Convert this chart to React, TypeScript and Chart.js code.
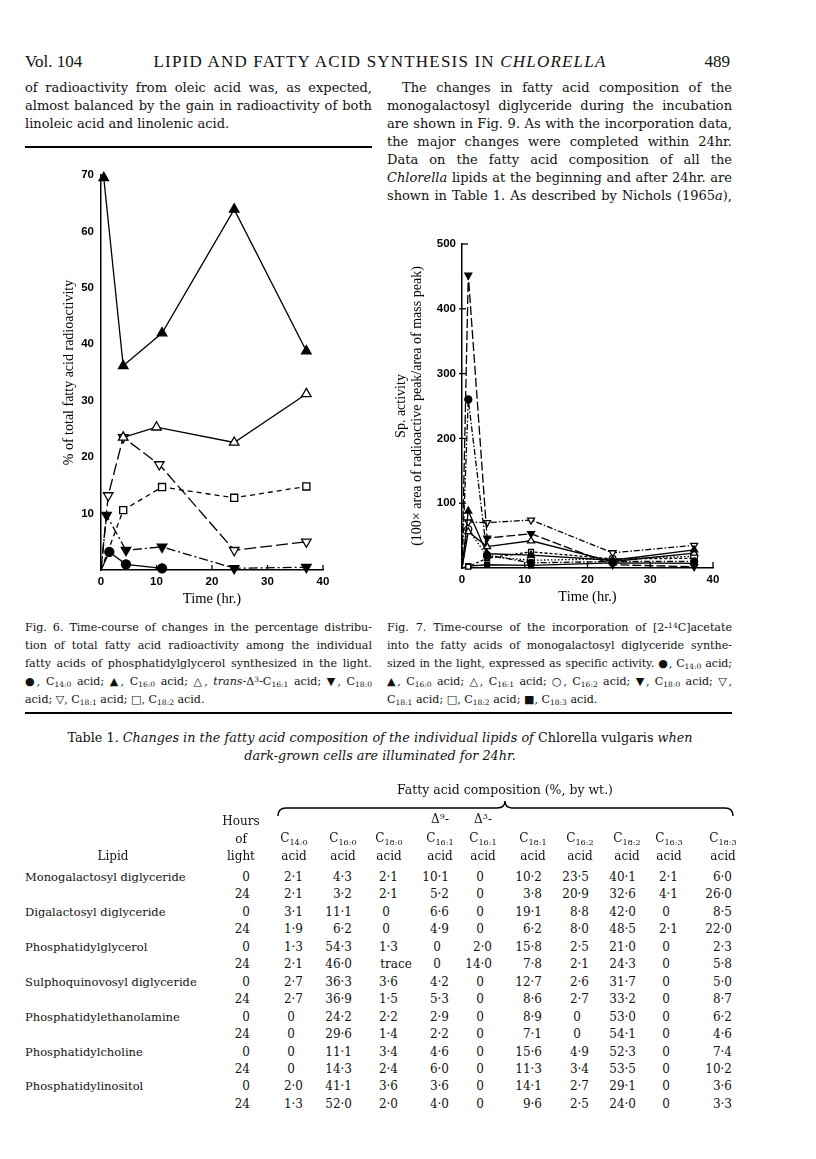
import React, { useEffect, useRef } from 'react';
import { Chart, registerables } from 'chart.js';

Chart.register(...registerables);

// ---------------- Fig. 6 data: % of total fatty acid radioactivity ----------------
const fig6XTicks = [0, 10, 20, 30, 40];
const fig6YTicks = [10, 20, 30, 40, 50, 60, 70];
const fig6C140Time = [0, 1.5, 4.5, 11];
const fig6C140Pct = [0, 3.2, 1.0, 0.3];
const fig6C160Time = [0.5, 4, 11, 24, 37];
const fig6C160Pct = [69.5, 36.2, 42.0, 63.9, 38.8];
const fig6TransC161Time = [4, 10, 24, 37];
const fig6TransC161Pct = [23.5, 25.3, 22.6, 31.2];
const fig6C180Time = [0, 1, 4.5, 11, 24, 37];
const fig6C180Pct = [0, 9.7, 3.5, 4.1, 0.3, 0.5];
const fig6C181Time = [0, 1.3, 4, 10.5, 24, 37];
const fig6C181Pct = [0, 13.2, 23.5, 18.7, 3.5, 5.0];
const fig6C182Time = [0, 4, 11, 24, 37];
const fig6C182Pct = [0, 10.6, 14.7, 12.8, 14.8];

// ---------------- Fig. 7 data: specific activity ----------------
const fig7XTicks = [0, 10, 20, 30, 40];
const fig7YTicks = [100, 200, 300, 400, 500];
const fig7Time = [0, 1, 4, 11, 24, 37];
const fig7C140 = [0, 260, 20, 8, 10, 10];
const fig7C160 = [0, 88, 22, 20, 12, 28];
const fig7C161 = [0, 56, 33, 42, 10, 23];
const fig7C162 = [0, 60, 18, 12, 14, 18];
const fig7C180 = [0, 452, 46, 53, 5, 2];
const fig7C181 = [0, 71, 70, 74, 23.5, 35];
const fig7C182 = [0, 2, 15, 25, 14, 15];
const fig7C183 = [0, 3, 5, 4, 8, 7];

// ---------------- Table 1 data ----------------
const lipidNames = [
  'Monogalactosyl diglyceride',
  'Digalactosyl diglyceride',
  'Phosphatidylglycerol',
  'Sulphoquinovosyl diglyceride',
  'Phosphatidylethanolamine',
  'Phosphatidylcholine',
  'Phosphatidylinositol',
];
const hoursOfLight = ['0', '24'];
const acidCarbons = ['14:0', '16:0', '18:0', '16:1', '16:1', '18:1', '16:2', '18:2', '16:3', '18:3'];
const acidPrefixes = ['', '', '', 'Δ9', 'Δ3', '', '', '', '', ''];
const tableValues = [
  ['2·1', '4·3', '2·1', '10·1', '0', '10·2', '23·5', '40·1', '2·1', '6·0'],
  ['2·1', '3·2', '2·1', '5·2', '0', '3·8', '20·9', '32·6', '4·1', '26·0'],
  ['3·1', '11·1', '0', '6·6', '0', '19·1', '8·8', '42·0', '0', '8·5'],
  ['1·9', '6·2', '0', '4·9', '0', '6·2', '8·0', '48·5', '2·1', '22·0'],
  ['1·3', '54·3', '1·3', '0', '2·0', '15·8', '2·5', '21·0', '0', '2·3'],
  ['2·1', '46·0', 'trace', '0', '14·0', '7·8', '2·1', '24·3', '0', '5·8'],
  ['2·7', '36·3', '3·6', '4·2', '0', '12·7', '2·6', '31·7', '0', '5·0'],
  ['2·7', '36·9', '1·5', '5·3', '0', '8·6', '2·7', '33·2', '0', '8·7'],
  ['0', '24·2', '2·2', '2·9', '0', '8·9', '0', '53·0', '0', '6·2'],
  ['0', '29·6', '1·4', '2·2', '0', '7·1', '0', '54·1', '0', '4·6'],
  ['0', '11·1', '3·4', '4·6', '0', '15·6', '4·9', '52·3', '0', '7·4'],
  ['0', '14·3', '2·4', '6·0', '0', '11·3', '3·4', '53·5', '0', '10·2'],
  ['2·0', '41·1', '3·6', '3·6', '0', '14·1', '2·7', '29·1', '0', '3·6'],
  ['1·3', '52·0', '2·0', '4·0', '0', '9·6', '2·5', '24·0', '0', '3·3'],
];

// ---------------- layout constants ----------------
const INK = '#111';
const SERIF = "'DejaVu Serif', serif";
const colRight = [303, 352, 398, 449, 492, 542, 589, 636, 678, 732];
const rowY0 = 877;
const rowStep = 17.45;

function series(label, times, vals, opt) {
  const r = opt.r;
  return {
    label,
    data: times.map((t, i) => ({ x: t, y: vals[i] })),
    showLine: true,
    borderColor: '#000',
    borderWidth: 1.3,
    borderDash: opt.dash || [],
    pointStyle: opt.style,
    pointRotation: opt.rot || 0,
    pointBackgroundColor: opt.fill ? '#000' : '#fff',
    pointBorderColor: '#000',
    pointBorderWidth: 1.3,
    pointRadius: (c) => (c.raw && c.raw.x === 0 && c.raw.y === 0 ? 0 : r),
    pointHoverRadius: r,
    clip: false,
    tension: 0,
  };
}

function tickPlugin(xTicks, xLen, yTicks, yIn, yOut, topStub) {
  return {
    id: 'inwardTicks',
    afterDraw(chart) {
      const ctx = chart.ctx;
      const xs = chart.scales.x;
      const ys = chart.scales.y;
      ctx.save();
      ctx.strokeStyle = '#000';
      ctx.lineWidth = 1.3;
      xTicks.forEach((v) => {
        const px = xs.getPixelForValue(v);
        ctx.beginPath();
        ctx.moveTo(px, ys.bottom);
        ctx.lineTo(px, ys.bottom - xLen);
        ctx.stroke();
      });
      yTicks.forEach((v) => {
        const py = ys.getPixelForValue(v);
        ctx.beginPath();
        ctx.moveTo(xs.left - yOut, py);
        ctx.lineTo(xs.left + yIn, py);
        ctx.stroke();
      });
      if (topStub) {
        const py = ys.getPixelForValue(topStub);
        ctx.beginPath();
        ctx.moveTo(xs.left, py);
        ctx.lineTo(xs.left + 6, py);
        ctx.stroke();
      }
      ctx.restore();
    },
  };
}

function baseScales(o) {
  return {
    x: {
      type: 'linear',
      min: 0,
      max: 40,
      afterBuildTicks: (s) => {
        s.ticks = o.xTicks.map((v) => ({ value: v }));
      },
      grid: { display: false, drawTicks: false },
      border: { display: true, color: '#000', width: 1.5 },
      ticks: {
        color: '#000',
        padding: 5,
        autoSkip: false,
        maxRotation: 0,
        font: { family: "'Liberation Sans', sans-serif", weight: 'bold', size: 11.5 },
      },
      title: {
        display: true,
        text: 'Time (hr.)',
        color: '#000',
        font: { family: "'Liberation Serif', serif", size: 14.5 },
        padding: { top: 0, bottom: 4 },
      },
      afterFit: (s) => {
        s.height = 42;
      },
    },
    y: {
      type: 'linear',
      min: 0,
      max: o.yMax,
      afterBuildTicks: (s) => {
        s.ticks = o.yTicks.map((v) => ({ value: v }));
      },
      grid: { display: false, drawTicks: false },
      border: { display: true, color: '#000', width: 1.5 },
      ticks: {
        color: '#000',
        padding: o.yPad,
        autoSkip: false,
        font: { family: "'Liberation Sans', sans-serif", weight: 'bold', size: 11.5 },
      },
      title: {
        display: true,
        text: o.yTitle,
        color: '#000',
        font: { family: "'Liberation Serif', serif", size: 14, lineHeight: 1.15 },
        padding: { top: 3, bottom: 3 },
      },
      afterFit: (s) => {
        s.width = o.yWidth;
      },
    },
  };
}

function fig6Config() {
  return {
    type: 'scatter',
    data: {
      datasets: [
        series('C14:0', fig6C140Time, fig6C140Pct, { style: 'circle', fill: true, r: 4.5 }),
        series('C16:0', fig6C160Time, fig6C160Pct, { style: 'triangle', fill: true, r: 5.5 }),
        series('trans-Δ3-C16:1', fig6TransC161Time, fig6TransC161Pct, { style: 'triangle', fill: false, r: 5.5 }),
        series('C18:0', fig6C180Time, fig6C180Pct, { style: 'triangle', rot: 180, fill: true, r: 5.5, dash: [9, 3, 2, 3] }),
        series('C18:1', fig6C181Time, fig6C181Pct, { style: 'triangle', rot: 180, fill: false, r: 5.5, dash: [12, 4] }),
        series('C18:2', fig6C182Time, fig6C182Pct, { style: 'rect', fill: false, r: 5, dash: [5, 4] }),
      ],
    },
    options: {
      animation: false,
      responsive: false,
      maintainAspectRatio: false,
      devicePixelRatio: 1,
      layout: { padding: { left: 33, top: 15, right: 42, bottom: 0 } },
      plugins: { legend: { display: false }, tooltip: { enabled: false } },
      scales: baseScales({
        xTicks: fig6XTicks,
        yTicks: fig6YTicks,
        yMax: 70,
        yPad: 7,
        yWidth: 43,
        yTitle: '% of total fatty acid radioactivity',
      }),
    },
    plugins: [tickPlugin([10, 20, 30, 40], 5, [], 0, 0, 0)],
  };
}

function fig7Config() {
  return {
    type: 'scatter',
    data: {
      datasets: [
        series('C14:0', fig7Time, fig7C140, { style: 'circle', fill: true, r: 3.5, dash: [6, 2, 1.5, 2] }),
        series('C16:0', fig7Time, fig7C160, { style: 'triangle', fill: true, r: 4 }),
        series('C16:1', fig7Time, fig7C161, { style: 'triangle', fill: false, r: 4 }),
        series('C16:2', fig7Time, fig7C162, { style: 'circle', fill: false, r: 3.5, dash: [1.5, 2] }),
        series('C18:0', fig7Time, fig7C180, { style: 'triangle', rot: 180, fill: true, r: 4, dash: [9, 3] }),
        series('C18:1', fig7Time, fig7C181, { style: 'triangle', rot: 180, fill: false, r: 4, dash: [6, 2, 1.5, 2] }),
        series('C18:2', fig7Time, fig7C182, { style: 'rect', fill: false, r: 3.5, dash: [3, 2] }),
        series('C18:3', fig7Time, fig7C183, { style: 'rect', fill: true, r: 3.5 }),
      ],
    },
    options: {
      animation: false,
      responsive: false,
      maintainAspectRatio: false,
      devicePixelRatio: 1,
      layout: { padding: { left: 5, top: 14, right: 32, bottom: 0 } },
      plugins: { legend: { display: false }, tooltip: { enabled: false } },
      scales: baseScales({
        xTicks: fig7XTicks,
        yTicks: fig7YTicks,
        yMax: 500,
        yPad: 6,
        yWidth: 72,
        yTitle: ['Sp. activity', '(100× area of radioactive peak/area of mass peak)'],
      }),
    },
    plugins: [tickPlugin([10, 20, 30, 40], 6, [100, 200, 300, 400], 4, 3, 500)],
  };
}

function ChartCanvas({ left, top, width, height, makeConfig }) {
  const ref = useRef(null);
  useEffect(() => {
    const chart = new Chart(ref.current, makeConfig());
    return () => chart.destroy();
  }, []);
  return (
    <canvas
      ref={ref}
      width={width}
      height={height}
      style={{ position: 'absolute', left, top, width, height }}
    />
  );
}

function TL({ x, y, w, size = 13, lh = 18, justify = true, font = SERIF, style = {}, children }) {
  return (
    <div
      style={{
        position: 'absolute',
        left: x,
        top: y - lh / 2,
        width: w,
        height: lh,
        lineHeight: lh + 'px',
        fontSize: size,
        fontFamily: font,
        textAlign: justify ? 'justify' : 'left',
        textAlignLast: justify ? 'justify' : 'left',
        color: INK,
        ...style,
      }}
    >
      {children}
    </div>
  );
}

const sub = (t) => (
  <span style={{ fontSize: '0.68em', verticalAlign: '-0.32em', lineHeight: 0 }}>{t}</span>
);
const sup = (t) => (
  <span style={{ fontSize: '0.68em', verticalAlign: '0.45em', lineHeight: 0 }}>{t}</span>
);

function Cell({ right, y, text }) {
  const isNum = text.indexOf('·') >= 0;
  const base = {
    position: 'absolute',
    top: y - 9,
    height: 18,
    lineHeight: '18px',
    fontSize: 12,
    fontFamily: SERIF,
    color: INK,
    whiteSpace: 'nowrap',
  };
  if (isNum) {
    return <div style={{ ...base, left: right - 60, width: 60, textAlign: 'right' }}>{text}</div>;
  }
  const c = text === 'trace' ? right - 2 : right - 12;
  return <div style={{ ...base, left: c - 30, width: 60, textAlign: 'center' }}>{text}</div>;
}

function Table() {
  const items = [];
  const hdr = { position: 'absolute', fontSize: 12, fontFamily: SERIF, color: INK, lineHeight: '18px', textAlign: 'center' };
  items.push(
    <div key="fac" style={{ ...hdr, left: 375, top: 781, width: 260, fontSize: 12.5 }}>
      Fatty acid composition (%, by wt.)
    </div>
  );
  const hx = 241;
  ['Hours', 'of', 'light'].forEach((t, i) => {
    items.push(
      <div key={'h' + i} style={{ ...hdr, left: hx - 40, top: 821 + i * 17.5 - 9, width: 80 }}>
        {t}
      </div>
    );
  });
  items.push(
    <div key="lipid" style={{ ...hdr, left: 83, top: 856 - 9, width: 60 }}>
      Lipid
    </div>
  );
  acidCarbons.forEach((c, i) => {
    const cx = colRight[i] - 9;
    const st = { ...hdr, left: cx - 30, width: 60 };
    if (acidPrefixes[i]) {
      items.push(
        <div key={'p' + i} style={{ ...st, top: 819 - 9 }}>
          {'Δ'}
          {sup(acidPrefixes[i].slice(1))}
          {'-'}
        </div>
      );
    }
    items.push(
      <div key={'c' + i} style={{ ...st, top: 838 - 9 }}>
        C{sub(c)}
      </div>
    );
    items.push(
      <div key={'a' + i} style={{ ...st, top: 856 - 9 }}>
        acid
      </div>
    );
  });
  tableValues.forEach((row, r) => {
    const y = rowY0 + r * rowStep;
    if (r % 2 === 0) {
      items.push(
        <div key={'n' + r} style={{ position: 'absolute', left: 25, top: y - 9, fontSize: 11.5, fontFamily: SERIF, color: INK, lineHeight: '18px', whiteSpace: 'nowrap' }}>
          {lipidNames[r / 2]}
        </div>
      );
    }
    items.push(
      <div key={'hr' + r} style={{ position: 'absolute', left: 200, top: y - 9, width: 50, textAlign: 'right', fontSize: 12, fontFamily: SERIF, color: INK, lineHeight: '18px' }}>
        {hoursOfLight[r % 2]}
      </div>
    );
    row.forEach((v, c) => {
      items.push(<Cell key={'v' + r + '_' + c} right={colRight[c]} y={y} text={v} />);
    });
  });
  return (
    <>
      <div style={{ position: 'absolute', left: 30, top: 729, width: 700, textAlign: 'center', fontSize: 12.8, fontFamily: SERIF, color: INK, lineHeight: '18px', whiteSpace: 'nowrap' }}>
        Table 1. <i>Changes in the fatty acid composition of the individual lipids of</i> Chlorella vulgaris <i>when</i>
      </div>
      <div style={{ position: 'absolute', left: 30, top: 747, width: 700, textAlign: 'center', fontSize: 12.8, fontFamily: SERIF, color: INK, lineHeight: '18px', whiteSpace: 'nowrap' }}>
        <i>dark-grown cells are illuminated for 24hr.</i>
      </div>
      <svg style={{ position: 'absolute', left: 0, top: 0 }} width={816} height={830}>
        <path
          d="M278 816 Q278 808 286 808 L497 808 Q505 808 505 801 Q505 808 513 808 L725 808 Q733 808 733 816"
          fill="none"
          stroke="#000"
          strokeWidth={1.5}
        />
      </svg>
      {items}
    </>
  );
}

export default function App() {
  const L = 25;
  const LW = 347;
  const R = 387;
  const RW = 345;
  const cap = 11.1;
  return (
    <div style={{ position: 'absolute', left: 0, top: 0, width: 816, height: 1159, background: '#fff', overflow: 'hidden' }}>
      {/* running header */}
      <div style={{ position: 'absolute', left: L, top: 52, fontFamily: "'Liberation Serif', serif", fontSize: 17, color: INK, lineHeight: '20px' }}>
        Vol. 104
      </div>
      <div style={{ position: 'absolute', left: 100, top: 52, width: 560, textAlign: 'center', fontFamily: "'Liberation Serif', serif", fontSize: 17, letterSpacing: 1.2, color: INK, lineHeight: '20px', whiteSpace: 'nowrap' }}>
        LIPID AND FATTY ACID SYNTHESIS IN <i>CHLORELLA</i>
      </div>
      <div style={{ position: 'absolute', left: 680, top: 52, width: 50, textAlign: 'right', fontFamily: "'Liberation Serif', serif", fontSize: 17, color: INK, lineHeight: '20px' }}>
        489
      </div>

      {/* left column text */}
      <TL x={L} y={88} w={LW}>of radioactivity from oleic acid was, as expected,</TL>
      <TL x={L} y={106} w={LW}>almost balanced by the gain in radioactivity of both</TL>
      <TL x={L} y={124} w={LW} justify={false}>linoleic acid and linolenic acid.</TL>
      <div style={{ position: 'absolute', left: L, top: 146, width: LW, height: 1.5, background: '#000' }} />

      {/* right column text */}
      <TL x={R + 15} y={88} w={RW - 15}>The changes in fatty acid composition of the</TL>
      <TL x={R} y={106} w={RW}>monogalactosyl diglyceride during the incubation</TL>
      <TL x={R} y={124} w={RW}>are shown in Fig. 9. As with the incorporation data,</TL>
      <TL x={R} y={142} w={RW}>the major changes were completed within 24hr.</TL>
      <TL x={R} y={160} w={RW}>Data on the fatty acid composition of all the</TL>
      <TL x={R} y={178} w={RW}><i>Chlorella</i> lipids at the beginning and after 24hr. are</TL>
      <TL x={R} y={196} w={RW}>shown in Table 1. As described by Nichols (1965<i>a</i>),</TL>

      {/* charts */}
      <ChartCanvas left={25} top={160} width={340} height={452} makeConfig={fig6Config} />
      <ChartCanvas left={385} top={230} width={360} height={380} makeConfig={fig7Config} />

      {/* captions */}
      <TL x={L} y={627} w={LW} size={cap} lh={17}>Fig. 6. Time-course of changes in the percentage distribu-</TL>
      <TL x={L} y={645} w={LW} size={cap} lh={17}>tion of total fatty acid radioactivity among the individual</TL>
      <TL x={L} y={663} w={LW} size={cap} lh={17}>fatty acids of phosphatidylglycerol synthesized in the light.</TL>
      <TL x={L} y={681} w={LW} size={cap} lh={17}>
        ●, C{sub('14:0')} acid; ▲, C{sub('16:0')} acid; △, <i>trans</i>-Δ{sup('3')}-C{sub('16:1')} acid; ▼, C{sub('18:0')}
      </TL>
      <TL x={L} y={699} w={LW} size={cap} lh={17} justify={false}>
        acid; ▽, C{sub('18:1')} acid; □, C{sub('18:2')} acid.
      </TL>

      <TL x={R} y={627} w={RW} size={cap} lh={17}>
        Fig. 7. Time-course of the incorporation of [2-{sup('14')}C]acetate
      </TL>
      <TL x={R} y={645} w={RW} size={cap} lh={17}>into the fatty acids of monogalactosyl diglyceride synthe-</TL>
      <TL x={R} y={663} w={RW} size={cap} lh={17} style={{ whiteSpace: 'nowrap', letterSpacing: -0.1 }}>
        sized in the light, expressed as specific activity. ●, C{sub('14:0')} acid;
      </TL>
      <TL x={R} y={681} w={RW} size={cap} lh={17}>
        ▲, C{sub('16:0')} acid; △, C{sub('16:1')} acid; ○, C{sub('16:2')} acid; ▼, C{sub('18:0')} acid; ▽,
      </TL>
      <TL x={R} y={699} w={RW} size={cap} lh={17} justify={false}>
        C{sub('18:1')} acid; □, C{sub('18:2')} acid; ■, C{sub('18:3')} acid.
      </TL>
      <div style={{ position: 'absolute', left: L, top: 712, width: 707, height: 2, background: '#000' }} />

      <Table />
    </div>
  );
}
